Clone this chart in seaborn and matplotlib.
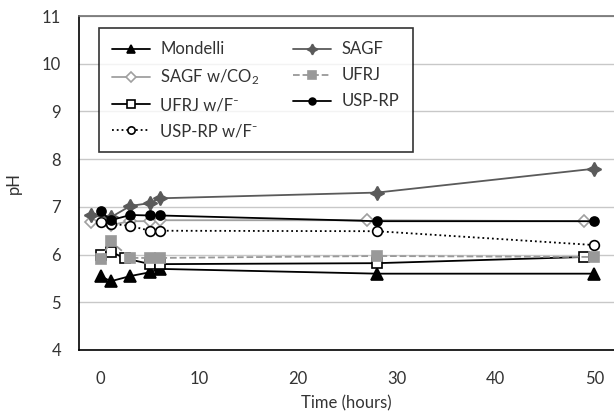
import matplotlib
matplotlib.use("Agg")
from matplotlib import pyplot as plt
import seaborn as sns

# pH readings per product, hours since start
mondelli_t = [0, 1, 3, 5, 6, 28, 50]
mondelli_ph = [5.55, 5.44, 5.55, 5.63, 5.70, 5.60, 5.60]

sagf_t = [-1, 1, 3, 5, 6, 28, 50]
sagf_ph = [6.82, 6.78, 7.02, 7.08, 7.18, 7.30, 7.80]

sagf_co2_t = [-1, 1, 3, 5, 6, 27, 49]
sagf_co2_ph = [6.68, 6.62, 6.70, 6.70, 6.72, 6.72, 6.70]

ufrj_t = [0, 1, 3, 5, 6, 28, 50]
ufrj_ph = [5.90, 6.28, 5.93, 5.93, 5.93, 5.97, 5.95]

ufrj_f_t = [0, 1, 2.5, 5, 6, 28, 49]
ufrj_f_ph = [6.00, 6.06, 5.92, 5.80, 5.80, 5.82, 5.95]

usp_t = [0, 1, 3, 5, 6, 28, 50]
usp_ph = [6.91, 6.72, 6.83, 6.82, 6.82, 6.70, 6.70]

usp_f_t = [0, 1, 3, 5, 6, 28, 50]
usp_f_ph = [6.69, 6.65, 6.60, 6.50, 6.50, 6.49, 6.20]

sns.set_style("white")
plt.rcParams['font.family'] = ['Lato', 'DejaVu Sans']
plt.rcParams['mathtext.default'] = 'regular'

fig = plt.figure(figsize=(6.14, 4.12), dpi=100)
ax = fig.add_axes([0.1287, 0.1505, 0.8713, 0.8105])

series = [
    ("Mondelli", mondelli_t, mondelli_ph,
     dict(color="black", marker="^", ms=8, mfc="black", mec="black", ls="-")),
    ("SAGF w/CO$_2$", sagf_co2_t, sagf_co2_ph,
     dict(color="#a0a0a0", marker="D", ms=6.5, mfc="white", mec="#a0a0a0", ls="-")),
    ("UFRJ w/F\u207b", ufrj_f_t, ufrj_f_ph,
     dict(color="black", marker="s", ms=7, mfc="white", mec="black", ls="-")),
    ("USP-RP w/F\u207b", usp_f_t, usp_f_ph,
     dict(color="black", marker="o", ms=7, mfc="white", mec="black", ls=":")),
    ("SAGF", sagf_t, sagf_ph,
     dict(color="#5a5a5a", marker=(4, 1, 0), ms=10, mfc="#5a5a5a", mec="#5a5a5a", ls="-")),
    ("UFRJ", ufrj_t, ufrj_ph,
     dict(color="#999999", marker="s", ms=7, mfc="#999999", mec="#999999", ls="--")),
    ("USP-RP", usp_t, usp_ph,
     dict(color="black", marker="o", ms=6.5, mfc="black", mec="black", ls="-")),
]

# draw in an order that keeps the filled markers on top like the original
draw_order = [5, 1, 3, 2, 4, 6, 0]
handles = {}
for i in draw_order:
    name, t, ph, st = series[i]
    sns.lineplot(x=t, y=ph, ax=ax, label=name, lw=1.3, markeredgewidth=1.2,
                 color=st["color"], marker=st["marker"], markersize=st["ms"],
                 markerfacecolor=st["mfc"], markeredgecolor=st["mec"],
                 linestyle=st["ls"], legend=False, zorder=3 + i)
    handles[name] = ax.get_lines()[-1]

ax.set_xlim(-2.2, 52)
ax.set_ylim(4, 11)
ax.set_xticks([0, 10, 20, 30, 40, 50])
ax.set_yticks(range(4, 12))
ax.yaxis.grid(True, color="#c8c8c8", lw=1)
ax.xaxis.grid(False)
ax.set_axisbelow(True)

for s in ["left", "bottom"]:
    ax.spines[s].set_color("black")
    ax.spines[s].set_linewidth(1.2)
ax.spines["right"].set_visible(False)
ax.spines["top"].set_color("#707070")
ax.spines["top"].set_linewidth(1.2)

ax.tick_params(axis="both", direction="out", length=7, width=1.2,
               labelsize=12, colors="black", labelcolor="#333333")
ax.tick_params(axis="x", pad=8)
ax.tick_params(axis="y", pad=6)
ax.set_xlabel("Time (hours)", fontsize=12, color="#333333", labelpad=6)
ax.set_ylabel("pH", fontsize=12, color="#333333", labelpad=14)

order = [s[0] for s in series]
leg = ax.legend([handles[n] for n in order], order, ncol=2, loc="upper left",
                bbox_to_anchor=(0.037, 0.964), borderaxespad=0, fontsize=12,
                frameon=True, fancybox=False, edgecolor="black",
                handlelength=2.3, handletextpad=0.6, columnspacing=2.0,
                labelspacing=0.6, borderpad=0.8, markerscale=0.75)
leg.get_frame().set_linewidth(1.2)
for txt in leg.get_texts():
    txt.set_color("#333333")

plt.savefig("out.png", dpi=100)
